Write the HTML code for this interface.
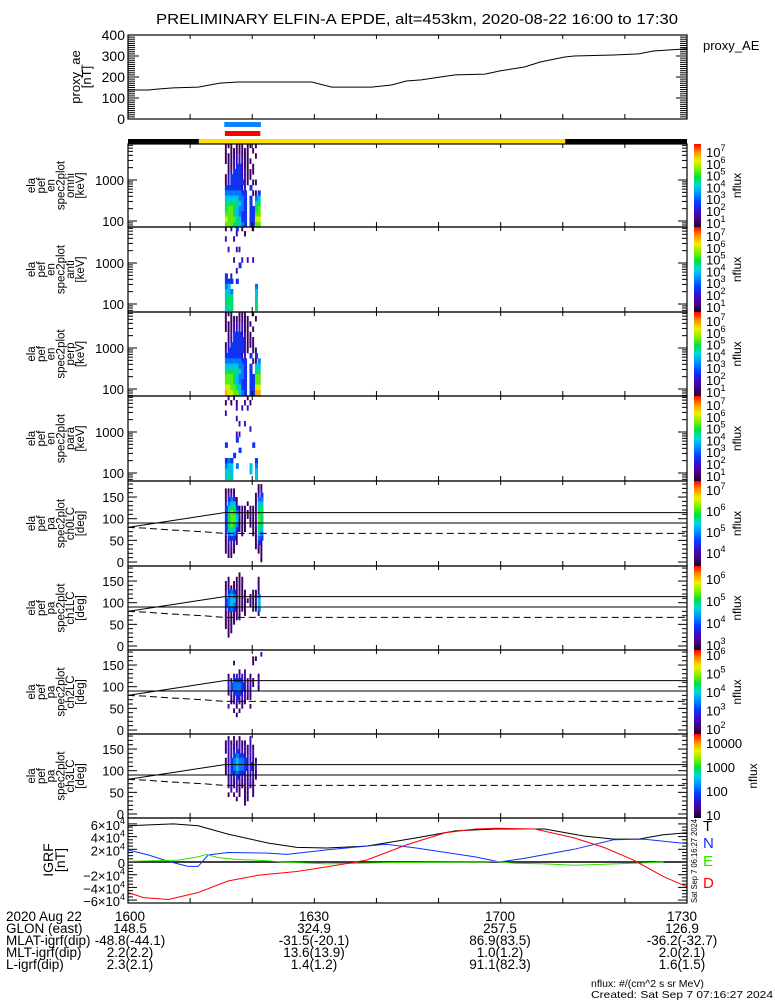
<!DOCTYPE html>
<html><head><meta charset="utf-8"><title>ELFIN-A EPDE summary</title>
<style>
html,body{margin:0;padding:0;background:#fff;}
svg{display:block;font-family:"Liberation Sans",sans-serif;}
</style></head>
<body>
<svg id="plot" width="775" height="1000" viewBox="0 0 775 1000">
<rect x="0" y="0" width="775" height="1000" fill="#fff"/>
<text x="417" y="24" font-size="14.5" text-anchor="middle" textLength="522" lengthAdjust="spacingAndGlyphs">PRELIMINARY ELFIN-A EPDE, alt=453km, 2020-08-22 16:00 to 17:30</text>
<text x="703" y="50" font-size="13">proxy_AE</text>
<text x="703" y="831" font-size="15" fill="#000">T</text>
<text x="703" y="848" font-size="15" fill="#1030ff">N</text>
<text x="703" y="866" font-size="15" fill="#30e000">E</text>
<text x="703" y="888" font-size="15" fill="#ff0000">D</text>
<text transform="translate(697,903) rotate(-90)" font-size="8" textLength="84" lengthAdjust="spacingAndGlyphs">Sat Sep  7 06:16:27 2024</text>
<g font-size="13.5">
<text x="6" y="921">2020 Aug 22</text>
<text x="6" y="933">GLON (east)</text>
<text x="6" y="945">MLAT-igrf(dip)</text>
<text x="6" y="957">MLT-igrf(dip)</text>
<text x="6" y="969">L-igrf(dip)</text>
</g>
<g font-size="13.5" text-anchor="middle">
<text x="130" y="921">1600</text>
<text x="314" y="921">1630</text>
<text x="500" y="921">1700</text>
<text x="682" y="921">1730</text>
<text x="130" y="933">148.5</text>
<text x="314" y="933">324.9</text>
<text x="500" y="933">257.5</text>
<text x="682" y="933">126.9</text>
<text x="130" y="945">-48.8(-44.1)</text>
<text x="314" y="945">-31.5(-20.1)</text>
<text x="500" y="945">86.9(83.5)</text>
<text x="682" y="945">-36.2(-32.7)</text>
<text x="130" y="957">2.2(2.2)</text>
<text x="314" y="957">13.6(13.9)</text>
<text x="500" y="957">1.0(1.2)</text>
<text x="682" y="957">2.0(2.1)</text>
<text x="130" y="969">2.3(2.1)</text>
<text x="314" y="969">1.4(1.2)</text>
<text x="500" y="969">91.1(82.3)</text>
<text x="682" y="969">1.6(1.5)</text>
</g>
<text x="591" y="987" font-size="10.5">nflux: #/(cm^2 s sr MeV)</text>
<text x="591" y="998" font-size="10.5" textLength="182" lengthAdjust="spacingAndGlyphs">Created: Sat Sep  7 07:16:27 2024</text>
</svg>
<script>
// ---------- data ----------
const aeTimes = [0,3.3,4.9,7.3,11.3,14.8,17.7,21.7,29.6,32.8,39.2,42.4,44.8,47.2,50.3,52.7,57.5,59.9,63.9,66.3,70.2,71.8,78.2,82.2,84.6,90];
const aeValues = [138,138,143,148,152,171,176,176,176,152,152,162,181,186,200,210,214,229,248,271,295,300,305,310,324,335];
const aeTickLabels = ["0","100","200","300","400"];
const aeTickValues = [0,100,200,300,400];

const sunStart = 11.4, sunEnd = 70.4;
const blueBar = [15.5,21.4];
const redBar = [15.6,21.3];

const specTimes = [15.6,16.04,16.48,16.92,17.36,17.8,18.24,18.68,19.12,19.56,20.0,20.44,20.88,21.32];
const specEnergies = [7000,5200,3900,2900,2150,1600,1200,880,650,480,360,270,200,150,110,80];
const pitchBins = [175,165,155,145,135,125,115,105,95,85,75,65,55,45,35,25,15,5];
const energyTickValues = [100,1000];
const energyTickLabels = ["100","1000"];
const pitchTickValues = [0,50,100,150];
const pitchTickLabels = ["0","50","100","150"];

const specOmni = [
"11101110110100","10111111101000","11112211100100","11122221110000",
"01123321101000","01233322111000","12333322110000","12333332101100",
"33333322030000","44444433001130","55555443030450","66666543030660",
"67765443033670","77765433033770","87776533033880","77766543033770"];
const specAnti = [
"10203010001000","00002001000000","20020000000000","00000000000000",
"02002200000000","00000000000000","00020020202000","00000300000000",
"00002000000000","30200000000000","33303000000000","45000000000400",
"55400000000500","56600000000500","66600000000600","56600000000600"];
const specPerp = [
"11100111001000","10111111100100","11122221110000","11122221101000",
"01233322110000","01233332111000","12333332111000","23333332101100",
"33333322030300","44444433001140","55555443030550","66666543030660",
"77765443033770","77765433033770","88776533033880","98877543033990"];
const specPara = [
"02020000100000","10101002010000","00002020200000","20000000000000",
"00002000000000","00000202000000","00000000020000","00002200000000",
"00003000000000","30000000003000","00000300000000","00030000000000",
"34300000000300","45504000050400","55500000050500","56500000000500"];
const paCh0 = [
"00000000000011","11110000000012","12210000000123","13431000000144",
"24552000100155","35663111011266","36764212111266","36775211111276",
"36775111011276","36764111011266","35653111001165","24542010001154",
"13331000000143","12221000000132","11210000000111","11110000000011",
"01100000000001","00000000000001"];
const paCh1 = [
"00000000000000","00000100000000","01001110000010","11011110000010",
"11111110000010","23431111001120","24541111011140","34551111111250",
"34541111011150","23431111001140","11111101000010","11111100000000",
"11110000000000","11100000000000","01100000000000","01000000000000",
"00000000000000","00000000000000"];
const paCh2 = [
"00000000000002","00000000001100","00010000001000","00000000000000",
"00000102000000","01022222010010","02233322211020","02344432221020",
"01344432210010","01233322210000","00123222110000","00122211000000",
"02001010010000","00010100000000","00001000000000","00000000000000",
"00000000000000","00000000000000"];
const paCh3 = [
"01010100020000","12121211020000","12212212121000","12223222122000",
"02234332222000","12345443222100","12345443231200","12345443231200",
"12334332222100","01223222122100","02212212121000","01212111121000",
"00202101101000","01010101101000","00001001100000","00000001000000",
"00000000000000","00000000000000"];

const lcTimes = [0,15.5,90];
const lcUpper = [80,114,114];
const blcTimes = [0,3,7,12,15.5,90];
const blcValues = [80,78,74,70,66,66];

const igrfTickValues = [-6,-4,-2,0,2,4,6];
const igrfTTimes = [0,7.3,11.3,16.1,22.5,27.2,32.0,38.4,46.4,52.7,59.1,67.1,73.4,78.2,82.2,86.2,90];
const igrfT = [5.7,6.0,5.7,4.4,3.0,2.3,2.2,2.5,3.8,4.9,5.2,5.2,4.1,3.6,3.6,4.3,4.6];
const igrfNTimes = [0,3.3,6.5,9.7,11.3,12.9,16.1,22.5,25.6,32.0,41.6,46.4,55.9,59.9,63.9,71.8,78.2,83.0,87.8,90];
const igrfN = [1.9,1.1,0.1,-0.7,-0.7,1.1,1.5,1.4,1.2,1.9,2.8,2.2,0.8,0.0,0.6,2.0,3.5,3.6,3.1,2.9];
const igrfETimes = [0,8.1,11.3,12.6,14.5,17.7,22.5,24.9,32.0,41.6,57.5,59.1,62.3,67.1,71.8,81.4,86.2];
const igrfE = [0.1,0.3,0.8,1.2,0.7,0.4,0.2,0.0,-0.3,-0.1,0.0,0.1,-0.2,-0.3,-0.5,-0.2,0.0];
const igrfDTimes = [0,2.5,6.5,11.3,16.1,20.9,27.2,33.6,38.4,44.8,51.1,55.9,59.1,65.5,71.8,76.6,81.4,86.2,90];
const igrfD = [-4.8,-5.6,-5.9,-4.8,-3.0,-2.1,-1.5,-0.5,0.3,2.7,4.6,5.2,5.3,5.2,3.8,2.3,0.3,-2.3,-3.9];

// ---------- layout ----------
const NS = 'http://www.w3.org/2000/svg';
const svg = document.getElementById('plot');
const XL = 128, XR = 687;
function X(t){ return XL + t/90*(XR-XL); }
function mk(tag, attrs, parent){
  const e = document.createElementNS(NS, tag);
  for (const k in attrs) e.setAttribute(k, attrs[k]);
  (parent||svg).appendChild(e);
  return e;
}
const cmap = [[0,'#1a0028'],[0.1,'#4b0082'],[0.2,'#3410d0'],[0.3,'#0040ff'],[0.4,'#0090ff'],[0.5,'#00d8e0'],[0.6,'#00e040'],[0.7,'#80f000'],[0.8,'#f0f000'],[0.9,'#ff9000'],[1,'#ff0000']];
function hex(c){ return [parseInt(c.slice(1,3),16),parseInt(c.slice(3,5),16),parseInt(c.slice(5,7),16)]; }
function color(f){
  f = Math.max(0, Math.min(1, f));
  for (let i=1;i<cmap.length;i++){
    if (f <= cmap[i][0]){
      const a = hex(cmap[i-1][1]), b = hex(cmap[i][1]);
      const u = (f-cmap[i-1][0])/(cmap[i][0]-cmap[i-1][0]);
      return 'rgb('+a.map((v,j)=>Math.round(v+(b[j]-v)*u)).join(',')+')';
    }
  }
  return cmap[cmap.length-1][1];
}
const defs = mk('defs', {});
const grad = mk('linearGradient', {id:'cbgrad', x1:0, y1:1, x2:0, y2:0}, defs);
cmap.forEach(s => { mk('stop', {offset:s[0], 'stop-color':s[1]}, grad); });

function line(x1,y1,x2,y2,parent,extra){
  const a = {x1:x1,y1:y1,x2:x2,y2:y2,stroke:'#000','stroke-width':1};
  if (extra) for (const k in extra) a[k]=extra[k];
  return mk('line', a, parent);
}
function txt(x,y,s,size,parent,anchor){
  const t = mk('text',{x:x,y:y,'font-size':size,'text-anchor':anchor||'end'},parent);
  t.textContent = s;
  return t;
}
function vlabel(lines, x0, dx, cy, size, parent){
  const g = mk('g', {'font-size':size,'text-anchor':'middle'}, parent);
  lines.forEach((s,k) => {
    const t = mk('text', {transform:'translate('+(x0+k*dx)+','+cy+') rotate(-90)'}, g);
    
    
    t.textContent = s;
  });
  return g;
}
function xTicks(top, bot, parent){
  for (let t=10;t<90;t+=10){
    const a = line(X(t), bot, X(t), bot-5, parent);
    
    
    const b = line(X(t), top, X(t), top+4, parent);
    
    
  }
}
function polyline(times, vals, xf, yf, colorS, parent, dash){
  const pts = times.map((t,i)=> xf(t).toFixed(1)+','+yf(vals[i]).toFixed(1)).join(' ');
  const a = {points:pts, fill:'none', stroke:colorS, 'stroke-width':1};
  if (dash) a['stroke-dasharray'] = dash;
  return mk('polyline', a, parent);
}

// ---------- AE panel ----------
const aeTop = 35, aeBot = 119;
function Yae(v){ return aeBot - v*0.21; }
const gAE = mk('g', {});


for (let v=0; v<=400; v+=10){
  const len = (v%100===0)?11:7;
  const l1 = line(XL, Yae(v), XL+len, Yae(v), gAE);
  
  
  const l2 = line(XR, Yae(v), XR-len, Yae(v), gAE);
  
  
}
aeTickValues.forEach((v,i)=>{
  const t = txt(125, Yae(v)+5, aeTickLabels[i], 14, gAE);
  
  
});
xTicks(aeTop, aeBot, gAE);
const aeBox = mk('rect', {x:XL, y:aeTop, width:XR-XL, height:aeBot-aeTop, fill:'none', stroke:'#000','stroke-width':1.2}, gAE);


const aeLine = polyline(aeTimes, aeValues, X, Yae, '#000', gAE);


const aeTitle = vlabel(['proxy_ae','[nT]'], 80, 11, 77, 13, gAE);



// ---------- bars ----------
const bb = mk('rect', {x:X(blueBar[0]), y:122, width:X(blueBar[1])-X(blueBar[0]), height:5, fill:'#0a84ff'});


const rb = mk('rect', {x:X(redBar[0]), y:131, width:X(redBar[1])-X(redBar[0]), height:5, fill:'#ff0000'});


const sunBlack = mk('rect', {x:XL, y:139, width:XR-XL, height:5, fill:'#000'});


const sunYellow = mk('rect', {x:X(sunStart), y:139, width:X(sunEnd)-X(sunStart), height:5, fill:'#ffe000'});



// ---------- spectrogram panels ----------
const panels = [
 {top:144, bot:227, kind:'E', data:specOmni, lines:['ela','pef','en','spec2plot','omni','[keV]'], cb:['7','6','5','4','3','2','1'], cbY0:8, cbStep:11.8, name:'omni'},
 {top:227, bot:312, kind:'E', data:specAnti, lines:['ela','pef','en','spec2plot','anti','[keV]'], cb:['7','6','5','4','3','2','1'], cbY0:9, cbStep:11.8, name:'anti'},
 {top:312, bot:396, kind:'E', data:specPerp, lines:['ela','pef','en','spec2plot','perp','[keV]'], cb:['7','6','5','4','3','2','1'], cbY0:9, cbStep:11.8, name:'perp'},
 {top:396, bot:481, kind:'E', data:specPara, lines:['ela','pef','en','spec2plot','para','[keV]'], cb:['7','6','5','4','3','2','1'], cbY0:9, cbStep:11.8, name:'para'},
 {top:481, bot:566, kind:'P', data:paCh0, lines:['ela','pef','pa','spec2plot','ch0LC','[deg]'], cb:['7','6','5','4'], cbY0:9, cbStep:21, name:'ch0lc'},
 {top:566, bot:650, kind:'P', data:paCh1, lines:['ela','pef','pa','spec2plot','ch1LC','[deg]'], cb:['6','5','4','3'], cbY0:13, cbStep:22, name:'ch1lc'},
 {top:650, bot:734, kind:'P', data:paCh2, lines:['ela','pef','pa','spec2plot','ch2LC','[deg]'], cb:['6','5','4','3','2'], cbY0:5, cbStep:18.5, name:'ch2lc'},
 {top:734, bot:818, kind:'P', data:paCh3, lines:['ela','pef','pa','spec2plot','ch3LC','[deg]'], cb:['10000','1000','100','10'], cbY0:9, cbStep:24, name:'ch3lc', plain:true}
];
const dt = specTimes[1]-specTimes[0];
panels.forEach((p, pi) => {
  const g = mk('g', {});
  
  
  const cp = mk('clipPath', {id:'clip'+pi}, defs);
  mk('rect', {x:XL, y:p.top, width:XR-XL, height:p.bot-p.top}, cp);
  const cells = mk('g', {'clip-path':'url(#clip'+pi+')'}, g);
  
  
  let Y, bins;
  if (p.kind==='E'){
    Y = e => p.top + 36 + (3 - Math.log10(e))*41;
    bins = specEnergies;
  } else {
    Y = d => p.bot - 4 - d*0.433;
    bins = pitchBins;
  }
  function edges(i){
    if (p.kind==='E'){
      const up = i>0 ? Math.sqrt(bins[i]*bins[i-1]) : bins[0]*Math.sqrt(bins[0]/bins[1]);
      const dn = i<bins.length-1 ? Math.sqrt(bins[i]*bins[i+1]) : bins[i]/Math.sqrt(bins[i-1]/bins[i]);
      return [Y(up), Y(dn)];
    }
    return [Y(bins[i]+5), Y(bins[i]-5)];
  }
  p.data.forEach((row, ri) => {
    const [y1, y2] = edges(ri);
    for (let ci=0; ci<row.length; ci++){
      const lv = +row[ci];
      if (!lv) continue;
      const w = (X(specTimes[ci]+dt)-X(specTimes[ci]));
      const ww = lv<=2 ? w*0.7 : w+0.3;
      const r = mk('rect', {x:X(specTimes[ci]).toFixed(2), y:y1.toFixed(2), width:ww.toFixed(2), height:(y2-y1+0.3).toFixed(2), fill:color(lv*0.1-0.03)}, cells);
      
      
    }
  });
  if (p.kind==='E'){
    for (let dec=1; dec<=3; dec++){
      for (let m=1;m<10;m++){
        const y = Y(m*Math.pow(10,dec));
        if (y < p.top || y > p.bot) continue;
        const len = m===1?9:5;
        const a = line(XL, y, XL+len, y, g);
        
        
        const b = line(XR, y, XR-len, y, g);
        
        
      }
    }
    energyTickValues.forEach((v,i)=>{
      const t = txt(124, Y(v)+5, energyTickLabels[i], 13, g);
      
      
    });
  } else {
    for (let d=0; d<=180; d+=10){
      const y = Y(d);
      const len = d%50===0?9:5;
      const a = line(XL, y, XL+len, y, g);
      
      
      const b = line(XR, y, XR-len, y, g);
      
      
    }
    pitchTickValues.forEach((v,i)=>{
      const t = txt(124, Y(v)+5, pitchTickLabels[i], 13, g);
      
      
    });
    const h90 = line(XL, Y(90), XR, Y(90), g);
    
    
    const lc = polyline(lcTimes, lcUpper, X, Y, '#000', g);
    
    
    const blc = polyline(blcTimes, blcValues, X, Y, '#000', g, '7,4');
    
    
  }
  xTicks(p.top, p.bot, g);
  const frame = mk('rect', {x:XL, y:p.top, width:XR-XL, height:p.bot-p.top, fill:'none', stroke:'#000', 'stroke-width':1.2}, g);
  
  
  const title = vlabel(p.lines, 35, 9.8, (p.top+p.bot)/2, 11.5, g);
  
  
  const cb = mk('rect', {x:694, y:p.top, width:7, height:p.bot-p.top, fill:'url(#cbgrad)'}, g);
  
  
  p.cb.forEach((s,k)=>{
    let y = p.top + p.cbY0 + k*p.cbStep;
    if (y > p.bot - 3) y = p.bot - 3;
    const t = mk('text', {x:706, y:y+5, 'font-size':13}, g);
    
    
    if (p.plain){ t.textContent = s; }
    else {
      const a = mk('tspan', {}, t); a.textContent = '10';
      const b = mk('tspan', {dy:-6, 'font-size':9}, t); b.textContent = s;
    }
  });
  const nf = mk('text', {transform:'translate('+(p.plain?757:741)+','+((p.top+p.bot)/2)+') rotate(-90)', 'font-size':12, 'text-anchor':'middle'}, g);
  
  
  nf.textContent = 'nflux';
});

// ---------- IGRF panel ----------
const igTop = 818, igBot = 903;
function Yig(v){ return 862 - v*6.35; }
const gI = mk('g', {});


for (let v=-6; v<=6; v+=0.5){
  const len = Number.isInteger(v/2)?9:5;
  const a = line(XL, Yig(v), XL+len, Yig(v), gI);
  
  
  const b = line(XR, Yig(v), XR-len, Yig(v), gI);
  
  
}
igrfTickValues.forEach(v=>{
  const t = mk('text', {x:125, y:Yig(v)+6, 'font-size':13, 'text-anchor':'end'}, gI);
  
  
  if (v===0){ t.textContent = '0'; }
  else {
    const a = mk('tspan', {}, t); a.textContent = (v<0?'\u2212':'')+Math.abs(v)+'\u00d710';
    const b = mk('tspan', {dy:-6, 'font-size':9}, t); b.textContent = '4';
  }
});
xTicks(igTop, igBot, gI);
const zl = line(XL, Yig(0), XR, Yig(0), gI, {'stroke-width':1.5});


const lT = polyline(igrfTTimes, igrfT, X, Yig, '#000', gI);


const lN = polyline(igrfNTimes, igrfN, X, Yig, '#1030ff', gI);


const lE = polyline(igrfETimes, igrfE, X, Yig, '#30e000', gI);


const lD = polyline(igrfDTimes, igrfD, X, Yig, '#ff0000', gI);


const igFrame = mk('rect', {x:XL, y:igTop, width:XR-XL, height:igBot-igTop, fill:'none', stroke:'#000', 'stroke-width':1.2}, gI);


const igTitle = vlabel(['IGRF','[nT]'], 53, 12, 860, 14, gI);


</script>
</body></html>
